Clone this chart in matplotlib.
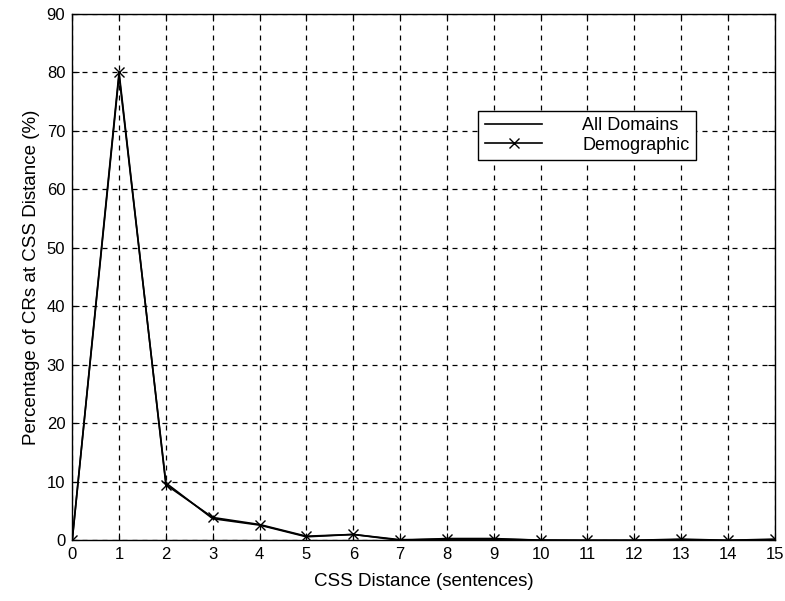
import numpy as np
import matplotlib
matplotlib.use("Agg")
import matplotlib.pyplot as plt

plt.rcParams['font.family'] = ['Liberation Sans', 'DejaVu Sans']

# CSS distance in sentences and the share of CRs at each distance
distance = list(range(16))
all_domains = [0, 79.5, 9.8, 3.7, 2.6, 0.6, 1.0, 0.1, 0.2, 0.2, 0.05, 0, 0, 0.1, 0, 0.1]
demographic = [0, 80.0, 9.5, 3.9, 2.7, 0.7, 1.0, 0.0, 0.3, 0.3, 0.0, 0, 0, 0.2, 0, 0.2]

x_ticks = list(range(16))
y_ticks = list(range(0, 91, 10))

fig = plt.figure(figsize=(7.85, 6.01), dpi=100)
ax = fig.add_axes([0.092, 0.101, 0.895, 0.876])

ax.plot(distance, all_domains, color='black', lw=1.2, label='All Domains')
ax.plot(distance, demographic, color='black', lw=1.2, marker='x', ms=7,
        mew=1.0, label='Demographic')

ax.set_xlim(0, 15)
ax.set_ylim(0, 90)
ax.set_xticks(x_ticks)
ax.set_yticks(y_ticks)
ax.grid(True, color='black', linestyle=(0, (4, 4)), lw=0.9)
ax.tick_params(direction='in', top=True, right=True, length=5,
               labelsize=12, pad=5)
for sp in ax.spines.values():
    sp.set_linewidth(1.0)

ax.set_xlabel('CSS Distance (sentences)', fontsize=13.5, labelpad=8)
ax.set_ylabel('Percentage of CRs at CSS Distance (%)', fontsize=13.5,
              labelpad=5)

leg = ax.legend(loc='upper left', bbox_to_anchor=(0.578, 0.816),
                fontsize=13, fancybox=False, framealpha=1,
                edgecolor='black', handlelength=3.2, handletextpad=2.2,
                borderpad=0.35, labelspacing=0.15, borderaxespad=0)
leg.get_frame().set_linewidth(1.0)

fig.savefig('out.png', dpi=100)
